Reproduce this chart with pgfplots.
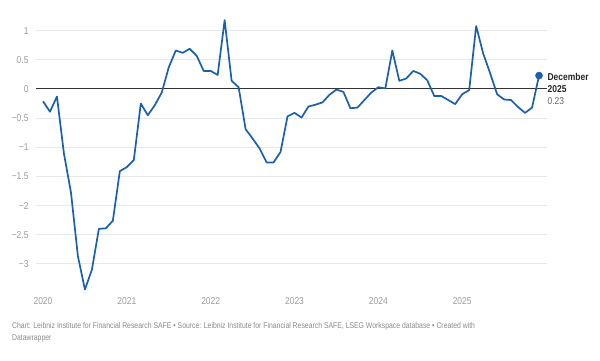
\documentclass[border=0pt]{standalone}
\usepackage{pgfplots}
\pgfplotsset{compat=1.18}
\usetikzlibrary{calc}
\usepackage{fontspec}
\setmainfont{Liberation Sans}[FakeStretch=0.85]
\newfontfamily\footfont{Liberation Sans}[FakeStretch=0.82]
\definecolor{line}{HTML}{1B60AC}
\definecolor{gridc}{HTML}{E8E8E8}
\definecolor{tickc}{HTML}{9A9A9A}
\definecolor{footc}{HTML}{8A8A8A}
\definecolor{zeroc}{HTML}{333333}
\begin{document}
\begin{tikzpicture}[x=1bp,y=1bp]
\begin{axis}[
  at={(0,0)}, anchor=south west,
  scale only axis, width=511bp, height=279.8bp,
  xmin=-1, xmax=72.14, ymin=-3.5, ymax=1.3,
  axis line style={draw=none},
  major tick length=0pt,
  xtick={0,12,24,36,48,60},
  xticklabels={2020,2021,2022,2023,2024,2025},
  ytick={-3,-2.5,-2,-1.5,-1,-0.5,0,0.5,1},
  yticklabels={−3,−2.5,−2,−1.5,−1,−0.5,0,0.5,1},
  ymajorgrids, xmajorgrids=false,
  grid style={gridc, line width=1bp},
  tick label style={font=\fontsize{10}{12}\selectfont, text=tickc},
  yticklabel style={anchor=east, xshift=-4bp},
  xticklabel style={anchor=north, yshift=-1.3bp},
  extra y ticks={0}, extra y tick labels={},
  extra y tick style={grid style={zeroc, line width=1bp}},
  clip=false,
]
\coordinate (O) at (axis cs:-1,-3.5);
\addplot[line, line width=1.7bp, line join=round] coordinates {
(0,-0.21) (1,-0.39) (2,-0.13) (3,-1.11) (4,-1.77) (5,-2.87) (6,-3.44) (7,-3.10)
(8,-2.40) (9,-2.39) (10,-2.26) (11,-1.41) (12,-1.34) (13,-1.22) (14,-0.25) (15,-0.45)
(16,-0.28) (17,-0.06) (18,0.37) (19,0.66) (20,0.62) (21,0.69) (22,0.57) (23,0.31)
(24,0.31) (25,0.24) (26,1.18) (27,0.14) (28,0.03) (29,-0.69) (30,-0.85) (31,-1.02)
(32,-1.26) (33,-1.26) (34,-1.08) (35,-0.47) (36,-0.41) (37,-0.49) (38,-0.30) (39,-0.27)
(40,-0.23) (41,-0.10) (42,-0.01) (43,-0.05) (44,-0.33) (45,-0.32) (46,-0.19) (47,-0.06)
(48,0.03) (49,0.01) (50,0.66) (51,0.14) (52,0.18) (53,0.31) (54,0.26) (55,0.15)
(56,-0.12) (57,-0.12) (58,-0.19) (59,-0.26) (60,-0.09) (61,-0.02) (62,1.08) (63,0.61)
(64,0.27) (65,-0.09) (66,-0.18) (67,-0.19) (68,-0.31) (69,-0.41) (70,-0.32) (71,0.23)
};
\addplot[line, only marks, mark=*, mark size=3.6bp] coordinates {(71,0.23)};
\node[anchor=west, inner sep=0pt, font=\fontsize{10}{12}\selectfont\bfseries, text=black!85] at (axis cs:72.2,0.205) {December};
\node[anchor=west, inner sep=0pt, font=\fontsize{10}{12}\selectfont\bfseries, text=black!85] at (axis cs:72.2,0.0) {2025};
\node[anchor=west, inner sep=0pt, font=\fontsize{10}{12}\selectfont, text=black!60] at (axis cs:72.2,-0.205) {0.23};
\end{axis}
\pgfresetboundingbox
\useasboundingbox ($(O)+(-36,-67)$) rectangle ($(O)+(564,293)$);
\node[anchor=west, inner sep=0pt, text=footc, font=\footfont\fontsize{8.4}{10}\selectfont] at ($(O)+(-24,-33)$) {Chart: Leibniz Institute for Financial Research SAFE • Source: Leibniz Institute for Financial Research SAFE, LSEG Workspace database • Created with};
\node[anchor=west, inner sep=0pt, text=footc, font=\footfont\fontsize{8.4}{10}\selectfont] at ($(O)+(-24,-45)$) {Datawrapper};
\end{tikzpicture}
\end{document}
